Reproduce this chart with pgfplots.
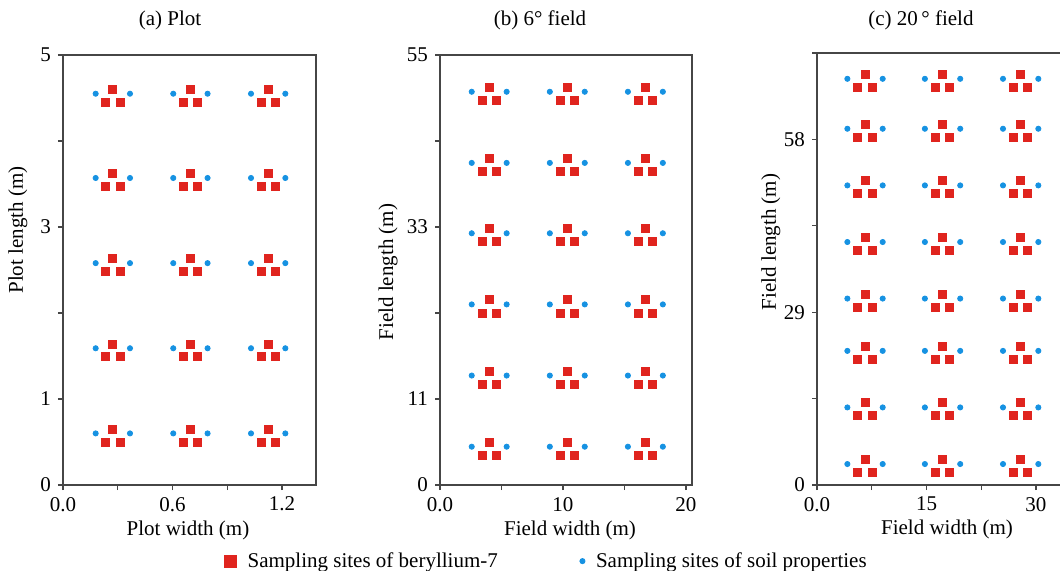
\documentclass[border=0pt]{standalone}
\usepackage{fontspec}
\setmainfont{Liberation Serif}
\usepackage{pgfplots}
\pgfplotsset{compat=1.18}
\definecolor{myred}{RGB}{224,36,30}
\definecolor{myblue}{RGB}{22,146,226}
\definecolor{axgray}{RGB}{70,70,70}
\pgfplotsset{
  panel/.style={
    scale only axis,
    tick align=outside,
    tick pos=left,
    major tick length=2.5pt,
    axis line style={axgray, line width=0.6pt},
    every tick/.style={axgray, line width=0.6pt},
    clip=false,
    title style={anchor=center, yshift=-6pt},
    xlabel style={anchor=center},
    ylabel style={anchor=center},
  },
  bluepts/.style={only marks, mark=*, mark size=1.3pt, color=myblue},
  redpts/.style={only marks, mark=square*, mark size=2pt, color=myred},
}
\begin{document}
\begin{tikzpicture}[font=\fontsize{10.5}{12.6}\selectfont]
\useasboundingbox (0,0) rectangle (530pt,285pt);
\clip (0,0) rectangle (530pt,285pt);
% ---------------- (a) Plot
\begin{axis}[panel,
  at={(31.5pt,42.5pt)}, anchor=south west,
  width=126.5pt, height=215pt,
  xmin=0, xmax=1.386, ymin=0, ymax=5,
  xtick={0,0.3,0.6,0.9,1.2}, xticklabels={0.0,,0.6,,1.2},
  ytick={0,1,2,3,4,5}, yticklabels={0,1,,3,,5},
  title={(a) Plot},
  title style={at={(axis description cs:0.423,1.081)}},
  xlabel={Plot width (m)},
  xlabel style={at={(axis description cs:0.494,-0.105)}},
  ylabel={Plot length (m)},
  ylabel style={at={(axis description cs:-0.178,0.593)}},
]
\addplot[bluepts] coordinates {
(0.179,0.60) (0.367,0.60) (0.604,0.60) (0.792,0.60) (1.030,0.60) (1.218,0.60)
(0.179,1.59) (0.367,1.59) (0.604,1.59) (0.792,1.59) (1.030,1.59) (1.218,1.59)
(0.179,2.58) (0.367,2.58) (0.604,2.58) (0.792,2.58) (1.030,2.58) (1.218,2.58)
(0.179,3.57) (0.367,3.57) (0.604,3.57) (0.792,3.57) (1.030,3.57) (1.218,3.57)
(0.179,4.55) (0.367,4.55) (0.604,4.55) (0.792,4.55) (1.030,4.55) (1.218,4.55)
};
\addplot[redpts] coordinates {
(0.273,0.65) (0.234,0.50) (0.312,0.50) (0.698,0.65) (0.659,0.50) (0.737,0.50) (1.124,0.65) (1.085,0.50) (1.163,0.50)
(0.273,1.64) (0.234,1.49) (0.312,1.49) (0.698,1.64) (0.659,1.49) (0.737,1.49) (1.124,1.64) (1.085,1.49) (1.163,1.49)
(0.273,2.63) (0.234,2.48) (0.312,2.48) (0.698,2.63) (0.659,2.48) (0.737,2.48) (1.124,2.63) (1.085,2.48) (1.163,2.48)
(0.273,3.62) (0.234,3.47) (0.312,3.47) (0.698,3.62) (0.659,3.47) (0.737,3.47) (1.124,3.62) (1.085,3.47) (1.163,3.47)
(0.273,4.60) (0.234,4.45) (0.312,4.45) (0.698,4.60) (0.659,4.45) (0.737,4.45) (1.124,4.60) (1.085,4.45) (1.163,4.45)
};
\end{axis}
% ---------------- (b) 6 degree field
\begin{axis}[panel,
  at={(220pt,42.5pt)}, anchor=south west,
  width=126pt, height=215pt,
  xmin=0, xmax=20.49, ymin=0, ymax=55,
  xtick={0,5,10,15,20}, xticklabels={0.0,,10,,20},
  ytick={0,11,22,33,44,55}, yticklabels={0,11,,33,,55},
  title={(b) 6° field},
  title style={at={(axis description cs:0.397,1.081)}},
  xlabel={Field width (m)},
  xlabel style={at={(axis description cs:0.516,-0.105)}},
  ylabel={Field length (m)},
  ylabel style={at={(axis description cs:-0.206,0.495)}},
  legend columns=2,
  legend style={at={(axis description cs:-0.88,-0.177)}, anchor=west,
    draw=none, fill=none, font=\fontsize{10.5}{12.6}\selectfont,
    /tikz/every odd column/.append style={column sep=3.5pt},
    /tikz/every even column/.append style={column sep=39pt},
    cells={anchor=west}},
]
\addplot[redpts, legend image code/.code={\draw[myred] plot[mark=square*, mark size=3pt] coordinates {(0.15cm,0cm)};}] coordinates {
(4.0,5.48) (3.43,3.81) (4.57,3.81) (10.35,5.48) (9.78,3.81) (10.92,3.81) (16.7,5.48) (16.13,3.81) (17.27,3.81)
(4.0,14.58) (3.43,12.91) (4.57,12.91) (10.35,14.58) (9.78,12.91) (10.92,12.91) (16.7,14.58) (16.13,12.91) (17.27,12.91)
(4.0,23.68) (3.43,22.01) (4.57,22.01) (10.35,23.68) (9.78,22.01) (10.92,22.01) (16.7,23.68) (16.13,22.01) (17.27,22.01)
(4.0,32.78) (3.43,31.11) (4.57,31.11) (10.35,32.78) (9.78,31.11) (10.92,31.11) (16.7,32.78) (16.13,31.11) (17.27,31.11)
(4.0,41.78) (3.43,40.11) (4.57,40.11) (10.35,41.78) (9.78,40.11) (10.92,40.11) (16.7,41.78) (16.13,40.11) (17.27,40.11)
(4.0,50.88) (3.43,49.21) (4.57,49.21) (10.35,50.88) (9.78,49.21) (10.92,49.21) (16.7,50.88) (16.13,49.21) (17.27,49.21)
};
\addlegendentry{Sampling sites of beryllium-7}
\addplot[bluepts, legend image code/.code={\draw[myblue] plot[mark=*, mark size=1.3pt] coordinates {(0.15cm,0cm)};}] coordinates {
(2.58,4.9) (5.42,4.9) (8.93,4.9) (11.77,4.9) (15.28,4.9) (18.12,4.9)
(2.58,14.0) (5.42,14.0) (8.93,14.0) (11.77,14.0) (15.28,14.0) (18.12,14.0)
(2.58,23.1) (5.42,23.1) (8.93,23.1) (11.77,23.1) (15.28,23.1) (18.12,23.1)
(2.58,32.2) (5.42,32.2) (8.93,32.2) (11.77,32.2) (15.28,32.2) (18.12,32.2)
(2.58,41.2) (5.42,41.2) (8.93,41.2) (11.77,41.2) (15.28,41.2) (18.12,41.2)
(2.58,50.3) (5.42,50.3) (8.93,50.3) (11.77,50.3) (15.28,50.3) (18.12,50.3)
};
\addlegendentry{Sampling sites of soil properties}
\end{axis}
% ---------------- (c) 20 degree field
\begin{axis}[panel,
  at={(408.5pt,42.5pt)}, anchor=south west,
  width=126.5pt, height=216pt,
  xmin=0, xmax=34.66, ymin=0, ymax=72.5,
  xtick={0,7.5,15,22.5,30}, xticklabels={0.0,,15,,30},
  ytick={0,14.5,29,43.5,58,72.5}, yticklabels={0,,29,,58,},
  title={(c) 20\,° field},
  title style={at={(axis description cs:0.411,1.076)}},
  xlabel={Field width (m)},
  xlabel style={at={(axis description cs:0.514,-0.104)}},
  ylabel={Field length (m)},
  ylabel style={at={(axis description cs:-0.182,0.5625)}},
]
\addplot[bluepts] coordinates {
(4.16,3.52) (9.0,3.52) (14.78,3.52) (19.62,3.52) (25.48,3.52) (30.32,3.52)
(4.16,13.02) (9.0,13.02) (14.78,13.02) (19.62,13.02) (25.48,13.02) (30.32,13.02)
(4.16,22.51) (9.0,22.51) (14.78,22.51) (19.62,22.51) (25.48,22.51) (30.32,22.51)
(4.16,31.29) (9.0,31.29) (14.78,31.29) (19.62,31.29) (25.48,31.29) (30.32,31.29)
(4.16,40.78) (9.0,40.78) (14.78,40.78) (19.62,40.78) (25.48,40.78) (30.32,40.78)
(4.16,50.28) (9.0,50.28) (14.78,50.28) (19.62,50.28) (25.48,50.28) (30.32,50.28)
(4.16,59.79) (9.0,59.79) (14.78,59.79) (19.62,59.79) (25.48,59.79) (30.32,59.79)
(4.16,68.17) (9.0,68.17) (14.78,68.17) (19.62,68.17) (25.48,68.17) (30.32,68.17)
};
\addplot[redpts] coordinates {
(6.58,4.29) (5.59,2.10) (7.57,2.10) (17.2,4.29) (16.21,2.10) (18.19,2.10) (27.9,4.29) (26.91,2.10) (28.89,2.10)
(6.58,13.79) (5.59,11.60) (7.57,11.60) (17.2,13.79) (16.21,11.60) (18.19,11.60) (27.9,13.79) (26.91,11.60) (28.89,11.60)
(6.58,23.28) (5.59,21.09) (7.57,21.09) (17.2,23.28) (16.21,21.09) (18.19,21.09) (27.9,23.28) (26.91,21.09) (28.89,21.09)
(6.58,32.06) (5.59,29.87) (7.57,29.87) (17.2,32.06) (16.21,29.87) (18.19,29.87) (27.9,32.06) (26.91,29.87) (28.89,29.87)
(6.58,41.55) (5.59,39.36) (7.57,39.36) (17.2,41.55) (16.21,39.36) (18.19,39.36) (27.9,41.55) (26.91,39.36) (28.89,39.36)
(6.58,51.05) (5.59,48.86) (7.57,48.86) (17.2,51.05) (16.21,48.86) (18.19,48.86) (27.9,51.05) (26.91,48.86) (28.89,48.86)
(6.58,60.56) (5.59,58.37) (7.57,58.37) (17.2,60.56) (16.21,58.37) (18.19,58.37) (27.9,60.56) (26.91,58.37) (28.89,58.37)
(6.58,68.94) (5.59,66.75) (7.57,66.75) (17.2,68.94) (16.21,66.75) (18.19,66.75) (27.9,68.94) (26.91,66.75) (28.89,66.75)
};
\end{axis}
\end{tikzpicture}
\end{document}
